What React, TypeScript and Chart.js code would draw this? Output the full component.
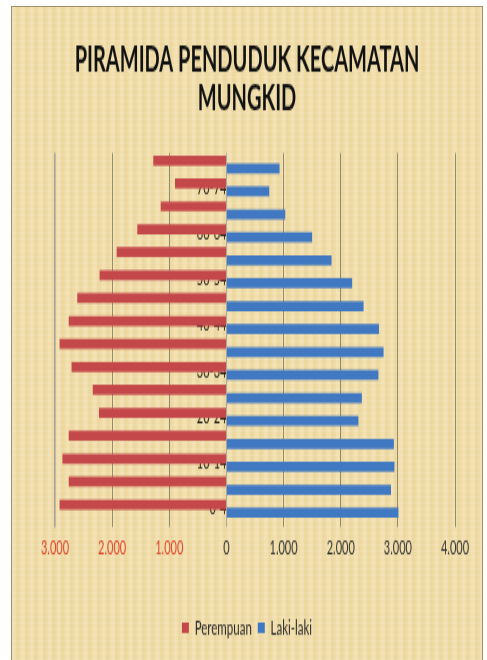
import React, { useEffect, useRef } from 'react';
import { Chart, registerables } from 'chart.js';

Chart.register(...registerables);

// Age groups, bottom (youngest) to top (oldest)
const ageGroups = ['0-4', '5-9', '10-14', '15-19', '20-24', '25-29', '30-34', '35-39', '40-44', '45-49', '50-54', '55-59', '60-64', '65-69', '70-74', '75+'];
// Female population (drawn to the left)
const perempuan = [2920, 2760, 2870, 2760, 2230, 2340, 2710, 2920, 2760, 2610, 2220, 1920, 1560, 1150, 900, 1280];
// Male population (drawn to the right)
const lakiLaki = [3010, 2880, 2940, 2930, 2310, 2370, 2660, 2750, 2670, 2400, 2200, 1840, 1500, 1030, 750, 930];

const seriesNames = ['Perempuan', 'Laki-laki'];
const titleLines = ['PIRAMIDA PENDUDUK KECAMATAN', 'MUNGKID'];
const xMin = -3000;
const xMax = 4000;
const xStep = 1000;

const FONT = 'Lato, "Liberation Sans", sans-serif';

const fmt = (v: number | string) =>
  String(Math.abs(Number(v))).replace(/\B(?=(\d{3})+(?!\d))/g, '.');

export default function App() {
  const ref = useRef<HTMLCanvasElement>(null);

  useEffect(() => {
    const canvas = ref.current!;
    const chart = new Chart(canvas, {
      type: 'bar',
      data: {
        labels: ageGroups,
        datasets: [
          {
            label: seriesNames[0],
            data: perempuan.map((v) => -v),
            backgroundColor: '#C4484A',
            borderWidth: 0,
            xAxisID: 'x',
            yAxisID: 'y',
            categoryPercentage: 0.7,
            barPercentage: 1.25,
          },
          {
            label: seriesNames[1],
            data: lakiLaki,
            backgroundColor: '#4178C2',
            borderWidth: 0,
            xAxisID: 'x',
            yAxisID: 'y',
            categoryPercentage: 0.7,
            barPercentage: 1.25,
          },
        ],
      },
      options: {
        indexAxis: 'y',
        responsive: false,
        animation: false,
        layout: { padding: { left: 27, right: 27, top: 0, bottom: 3.15 } },
        plugins: {
          title: {
            display: true,
            text: titleLines,
            color: '#111111',
            font: { family: FONT, size: 20, weight: 'bold', lineHeight: 1.085 },
            padding: { top: 19.5, bottom: 20.6 },
          },
          legend: {
            position: 'bottom',
            labels: {
              boxWidth: 7,
              boxHeight: 6,
              padding: 6,
              color: '#2a2a2a',
              font: { family: FONT, size: 11.5 },
            },
          },
          tooltip: { enabled: false },
        },
        scales: {
          x: {
            type: 'linear',
            min: xMin,
            max: xMax,
            ticks: {
              stepSize: xStep,
              callback: (v: any) => fmt(v),
              color: (ctx: any) => (ctx.tick && ctx.tick.value < 0 ? '#E0452F' : '#333333'),
              font: { family: FONT, size: 11 },
              padding: 5.4,
              maxRotation: 0,
            },
            grid: {
              color: (ctx: any) =>
                ctx.tick && (ctx.tick.value === 0 || ctx.tick.value === xMin) ? '#A4A4A0' : '#8A8262',
              lineWidth: (ctx: any) => (ctx.tick && ctx.tick.value === xMin ? 1.6 : 0.9),
              tickLength: 4,
              drawTicks: true,
            },
            border: { display: false },
            afterFit: (s: any) => {
              s.height = 49.95;
            },
          },
          y: {
            type: 'category',
            axis: 'y',
            position: { x: 0 } as any,
            reverse: true,
            z: 1,
            grid: { display: false, drawTicks: false },
            border: { display: false },
            ticks: {
              autoSkip: false,
              padding: 4.7,
              callback: (_v: any, i: number) => (i % 2 === 0 ? ageGroups[i] : ''),
              color: '#23231A',
              font: { family: FONT, size: 11 },
            },
          },
          yPad: {
            type: 'category',
            axis: 'y',
            position: 'left',
            display: true,
            grid: { display: false },
            border: { display: false },
            ticks: { display: false },
            afterFit: (s: any) => {
              s.width = 16;
            },
          },
        },
      } as any,
    });
    return () => chart.destroy();
  }, []);

  return (
    <div
      style={{
        position: 'fixed',
        left: 11,
        top: 6,
        width: 472,
        height: 660,
        boxSizing: 'border-box',
        border: '1px solid #A0906C',
        borderBottom: 'none',
        backgroundColor: '#F0DCA6',
        backgroundImage:
          'repeating-linear-gradient(90deg, rgba(255,255,255,0.12) 0px, rgba(255,255,255,0.12) 3px, rgba(170,130,50,0.07) 5px, rgba(255,255,255,0) 9px), repeating-linear-gradient(0deg, rgba(255,255,255,0.08) 0px, rgba(255,255,255,0.08) 2px, rgba(0,0,0,0) 2px, rgba(0,0,0,0) 6px)',
      }}
    >
      <canvas
        ref={ref}
        width={470}
        height={374}
        style={{ display: 'block', width: '470px', height: '654px' }}
      />
    </div>
  );
}
